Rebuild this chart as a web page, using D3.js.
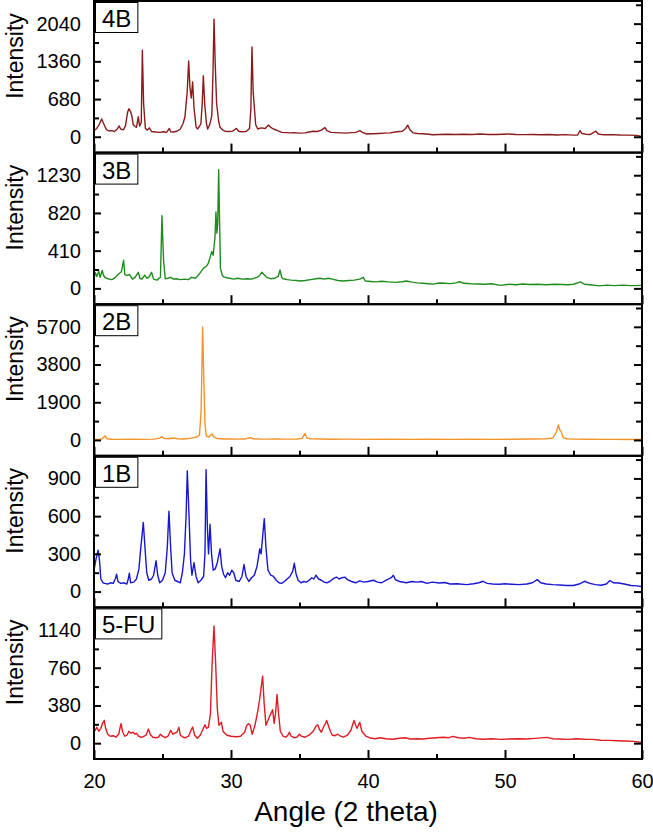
<!DOCTYPE html>
<html lang="en">
<head>
<meta charset="UTF-8">
<title>XRD patterns</title>
<script src="https://cdnjs.cloudflare.com/ajax/libs/d3/7.8.5/d3.min.js"></script>
<style>
body { margin: 0; background: #fff; }
text { font-family: Arial, "Liberation Sans", sans-serif; fill: #000; }
.tick text { font-size: 20px; }
.axis .domain { display: none; }
.axis line { stroke: #000; stroke-width: 2px; }
.frame { fill: none; stroke: #000; stroke-width: 2px; }
.tag-box { fill: #fff; stroke: #000; stroke-width: 1px; }
.tag { font-size: 24px; }
.ylab { font-size: 23px; }
.xlab { font-size: 28px; }
.trace { fill: none; stroke-width: 1.4px; stroke-linejoin: round; }
</style>
</head>
<body>
<svg id="chart" width="653" height="833"></svg>
<script>
// sample names, top to bottom
var samples = ['4B', '3B', '2B', '1B', '5-FU'];

// y tick labels per panel
var yTicks4B = [0, 680, 1360, 2040];
var yTicks3B = [0, 410, 820, 1230];
var yTicks2B = [0, 1900, 3800, 5700];
var yTicks1B = [0, 300, 600, 900];
var yTicks5FU = [0, 380, 760, 1140];

var xTicks = [20, 30, 40, 50, 60];
var xMinorTicks = [25, 35, 45, 55];

// [2theta, intensity]
var xrd4B = [[20.0,110],[20.2,150],[20.4,230],[20.56,320],[20.7,240],[20.9,130],[21.1,105],[21.3,110],[21.5,95],[21.7,140],[21.83,195],[21.95,140],[22.15,125],[22.3,200],[22.45,440],[22.55,505],[22.67,455],[22.76,380],[22.86,220],[23.0,185],[23.1,170],[23.23,360],[23.33,190],[23.45,260],[23.53,1560],[23.62,600],[23.75,150],[23.9,120],[24.04,160],[24.2,95],[24.5,85],[24.8,80],[25.1,90],[25.3,80],[25.5,150],[25.6,90],[25.8,85],[26.06,100],[26.3,140],[26.5,240],[26.64,360],[26.8,800],[26.91,1365],[27.0,900],[27.1,700],[27.2,990],[27.3,520],[27.45,180],[27.55,140],[27.7,190],[27.8,230],[27.9,600],[27.98,1100],[28.08,600],[28.2,250],[28.3,140],[28.45,220],[28.6,380],[28.68,1100],[28.76,2120],[28.85,1300],[28.95,600],[29.1,280],[29.2,170],[29.4,120],[29.56,100],[29.8,95],[30.1,100],[30.4,150],[30.55,100],[30.8,90],[31.1,95],[31.35,150],[31.45,500],[31.53,1620],[31.62,800],[31.8,220],[31.95,140],[32.2,160],[32.5,150],[32.72,210],[32.9,170],[33.1,140],[33.4,110],[33.7,80],[34.0,75],[34.3,70],[34.6,75],[35.0,65],[35.4,70],[35.7,85],[36.0,100],[36.3,95],[36.6,120],[36.86,165],[37.0,110],[37.3,80],[37.6,75],[38.0,70],[38.4,65],[38.8,75],[39.1,80],[39.4,110],[39.6,80],[39.9,50],[40.3,55],[40.8,60],[41.2,65],[41.6,70],[42.1,90],[42.5,100],[42.75,150],[42.9,210],[43.05,130],[43.3,70],[43.6,60],[44.0,55],[44.4,45],[44.75,35],[45.2,40],[45.8,45],[46.4,40],[47.0,45],[47.6,40],[48.2,50],[48.8,40],[49.4,42],[50.2,50],[50.8,40],[51.5,38],[52.0,40],[52.6,35],[53.2,40],[53.8,32],[54.4,38],[55.0,30],[55.3,32],[55.48,110],[55.6,60],[55.9,45],[56.2,40],[56.64,100],[56.8,50],[57.2,35],[57.8,38],[58.4,32],[59.0,30],[59.6,25],[60.0,5]];

var xrd3B = [[20.0,120],[20.1,170],[20.2,130],[20.35,185],[20.45,120],[20.6,195],[20.7,140],[20.8,118],[21.0,105],[21.3,95],[21.5,110],[21.75,150],[22.0,180],[22.16,305],[22.25,150],[22.4,140],[22.6,150],[22.8,100],[23.0,120],[23.23,175],[23.35,110],[23.5,100],[23.7,145],[23.85,110],[24.0,120],[24.2,175],[24.35,100],[24.6,90],[24.85,120],[24.96,790],[25.08,300],[25.2,105],[25.4,110],[25.6,120],[25.8,100],[26.0,105],[26.3,95],[26.6,100],[26.9,95],[27.1,120],[27.4,110],[27.6,140],[27.8,180],[28.0,220],[28.2,240],[28.35,275],[28.5,350],[28.6,400],[28.7,360],[28.78,480],[28.83,550],[28.9,830],[28.97,600],[29.03,700],[29.1,1290],[29.17,700],[29.23,220],[29.35,150],[29.45,125],[29.7,115],[29.9,110],[30.2,100],[30.5,110],[30.8,100],[31.2,105],[31.5,100],[31.9,120],[32.1,140],[32.24,175],[32.4,150],[32.6,120],[32.9,105],[33.2,110],[33.45,130],[33.58,200],[33.7,120],[33.8,105],[34.1,95],[34.4,90],[34.8,85],[35.04,80],[35.4,85],[35.8,95],[36.2,105],[36.5,110],[36.8,100],[37.1,110],[37.4,100],[37.8,85],[38.2,80],[38.6,85],[39.0,90],[39.4,100],[39.66,120],[39.8,80],[40.2,75],[40.6,70],[41.0,78],[41.5,70],[42.0,65],[42.5,72],[42.8,80],[43.2,68],[43.6,60],[44.0,55],[44.4,50],[44.75,46],[45.2,58],[45.6,55],[46.0,52],[46.4,60],[46.7,72],[47.0,55],[47.5,50],[48.0,48],[48.5,45],[49.0,50],[49.7,32],[50.3,45],[50.8,40],[51.3,48],[51.8,42],[52.4,45],[53.0,40],[53.6,45],[54.2,42],[54.6,40],[55.0,45],[55.5,70],[55.8,45],[56.2,40],[56.9,27],[57.4,35],[58.0,30],[58.6,35],[59.2,30],[60.0,32]];

var xrd2B = [[20.0,30],[20.4,40],[20.6,60],[20.8,200],[20.95,60],[21.3,35],[22.0,30],[22.8,35],[23.6,30],[24.4,40],[24.8,90],[24.94,170],[25.1,80],[25.4,60],[25.8,100],[26.1,60],[26.5,50],[26.9,70],[27.25,120],[27.5,150],[27.7,240],[27.82,1500],[27.93,5700],[28.02,3000],[28.1,800],[28.2,200],[28.4,150],[28.6,300],[28.75,150],[29.0,70],[29.5,50],[30.0,45],[30.5,40],[31.0,45],[31.3,100],[31.45,120],[31.6,60],[32.0,45],[32.6,40],[33.2,45],[34.0,40],[34.8,45],[35.2,80],[35.4,330],[35.55,90],[35.8,60],[36.5,45],[37.5,35],[38.5,40],[40.0,30],[41.5,35],[43.0,30],[44.5,35],[46.0,30],[47.5,35],[49.0,30],[50.5,35],[52.0,45],[53.0,60],[53.5,100],[53.75,400],[53.9,760],[54.0,500],[54.1,420],[54.25,120],[54.5,60],[55.0,40],[56.0,35],[57.0,30],[58.0,30],[59.0,25],[60.0,20]];

var xrd1B = [[20.0,170],[20.15,260],[20.3,330],[20.4,250],[20.5,100],[20.65,70],[20.8,65],[21.0,60],[21.2,70],[21.4,65],[21.55,100],[21.65,138],[21.75,80],[21.95,65],[22.2,70],[22.4,60],[22.5,100],[22.58,146],[22.67,70],[22.9,75],[23.1,100],[23.28,180],[23.4,330],[23.6,550],[23.72,350],[23.85,150],[24.0,90],[24.2,100],[24.35,130],[24.53,245],[24.65,130],[24.8,70],[25.0,90],[25.2,150],[25.35,350],[25.47,640],[25.58,380],[25.7,150],[25.9,90],[26.1,80],[26.3,70],[26.45,150],[26.6,300],[26.72,600],[26.81,960],[26.92,650],[27.05,250],[27.15,130],[27.3,230],[27.45,120],[27.6,70],[27.8,90],[28.0,120],[28.1,300],[28.18,970],[28.28,500],[28.36,300],[28.47,535],[28.58,300],[28.7,170],[28.85,180],[29.0,230],[29.2,340],[29.32,200],[29.45,140],[29.6,110],[29.75,150],[29.9,130],[30.05,170],[30.2,150],[30.35,90],[30.6,80],[30.8,120],[30.95,215],[31.1,120],[31.3,80],[31.5,110],[31.7,130],[31.9,200],[32.1,340],[32.2,300],[32.32,450],[32.43,580],[32.55,350],[32.7,170],[32.9,130],[33.1,120],[33.3,90],[33.5,70],[33.7,65],[33.9,80],[34.1,100],[34.3,120],[34.5,160],[34.62,225],[34.75,140],[34.9,90],[35.1,70],[35.3,80],[35.5,75],[35.7,90],[35.9,110],[36.05,100],[36.2,130],[36.4,100],[36.6,90],[36.8,75],[37.0,70],[37.2,80],[37.5,105],[37.7,115],[37.9,100],[38.1,110],[38.3,115],[38.5,95],[38.8,80],[39.1,70],[39.4,85],[39.7,75],[40.0,80],[40.4,90],[40.7,75],[41.0,70],[41.4,95],[41.7,110],[41.85,130],[42.0,95],[42.3,80],[42.8,70],[43.2,80],[43.6,75],[43.9,80],[44.3,65],[44.7,75],[45.2,68],[45.6,72],[46.0,60],[46.5,62],[47.2,55],[47.7,62],[48.1,70],[48.4,82],[48.7,65],[49.1,60],[49.6,58],[50.0,62],[50.5,58],[51.0,55],[51.6,60],[52.0,70],[52.36,95],[52.6,70],[53.0,60],[53.5,55],[54.0,52],[54.5,48],[55.0,48],[55.4,60],[55.8,82],[56.2,65],[56.6,55],[57.0,50],[57.4,60],[57.66,88],[57.9,70],[58.3,68],[58.7,60],[59.2,48],[59.6,45],[60.0,40]];

var xrd5FU = [[20.0,150],[20.1,130],[20.2,160],[20.35,120],[20.5,150],[20.62,200],[20.75,230],[20.85,150],[21.0,90],[21.2,70],[21.4,75],[21.6,60],[21.8,90],[21.97,196],[22.1,110],[22.25,70],[22.4,80],[22.55,120],[22.7,100],[22.85,110],[23.0,90],[23.1,100],[23.25,70],[23.4,60],[23.6,65],[23.8,80],[23.97,142],[24.1,90],[24.3,60],[24.5,55],[24.7,60],[24.85,90],[25.0,70],[25.2,55],[25.4,70],[25.6,130],[25.75,90],[25.9,100],[26.05,110],[26.2,160],[26.3,80],[26.5,60],[26.7,55],[26.9,70],[27.05,120],[27.2,162],[27.35,80],[27.55,50],[27.75,80],[27.95,140],[28.1,186],[28.2,150],[28.35,160],[28.5,300],[28.62,800],[28.76,1180],[28.88,800],[29.0,350],[29.12,180],[29.3,210],[29.42,120],[29.55,100],[29.7,80],[30.0,70],[30.4,65],[30.7,70],[31.0,110],[31.15,180],[31.27,196],[31.4,180],[31.55,90],[31.75,180],[31.95,320],[32.1,450],[32.2,560],[32.31,675],[32.42,400],[32.55,180],[32.7,230],[32.85,280],[33.04,337],[33.15,200],[33.25,300],[33.36,490],[33.47,300],[33.6,120],[33.8,70],[34.0,60],[34.15,80],[34.26,110],[34.4,70],[34.6,55],[34.8,60],[35.0,90],[35.15,70],[35.4,60],[35.7,80],[36.0,120],[36.2,170],[36.33,186],[36.45,140],[36.6,110],[36.75,160],[36.9,200],[36.98,229],[37.1,180],[37.25,120],[37.4,80],[37.6,75],[37.8,90],[38.0,70],[38.2,60],[38.5,80],[38.75,130],[38.98,229],[39.1,180],[39.2,150],[39.4,209],[39.55,120],[39.85,70],[40.1,55],[40.5,45],[40.9,55],[41.3,45],[41.8,40],[42.3,50],[42.7,55],[43.1,42],[43.6,45],[44.0,42],[44.5,50],[45.0,55],[45.5,60],[45.9,55],[46.2,68],[46.6,55],[47.0,50],[47.4,58],[47.9,45],[48.4,40],[49.0,45],[49.7,38],[50.3,42],[51.0,45],[51.6,42],[52.2,48],[53.05,58],[53.5,45],[54.0,42],[54.6,38],[55.2,45],[55.8,40],[56.4,38],[57.0,30],[57.6,28],[58.2,25],[58.8,22],[59.4,18],[60.0,6]];

var panels = [
  { name: samples[0], ticks: yTicks4B, data: xrd4B, color: '#8b1a1c' },
  { name: samples[1], ticks: yTicks3B, data: xrd3B, color: '#1e8c1e' },
  { name: samples[2], ticks: yTicks2B, data: xrd2B, color: '#f3932a' },
  { name: samples[3], ticks: yTicks1B, data: xrd1B, color: '#1717d2' },
  { name: samples[4], ticks: yTicks5FU, data: xrd5FU, color: '#e01b24' }
];

var svg = d3.select('#chart');
var left = 94, right = 642, top0 = 1, panelH = 151.6;

var x = d3.scaleLinear().domain([20, 60]).range([left, right]);

panels.forEach(function (p, i) {
  var py = top0 + i * panelH;
  var step = p.ticks[1] - p.ticks[0];
  var y = d3.scaleLinear()
    .domain([-0.42 * step, 3.6 * step])
    .range([py + panelH, py]);

  var minor = p.ticks.map(function (t) { return t + step / 2; })
    .filter(function (t) { return t < 3.6 * step; });

  var g = svg.append('g');

  g.append('clipPath').attr('id', 'clip' + i)
    .append('rect')
    .attr('x', left).attr('y', py)
    .attr('width', right - left).attr('height', panelH);

  var line = d3.line()
    .x(function (d) { return x(d[0]); })
    .y(function (d) { return y(d[1]); });

  g.append('path')
    .datum(p.data)
    .attr('class', 'trace')
    .attr('clip-path', 'url(#clip' + i + ')')
    .attr('stroke', p.color)
    .attr('d', line);

  // left axis, inward ticks
  g.append('g').attr('class', 'axis')
    .attr('transform', 'translate(' + left + ',0)')
    .call(d3.axisLeft(y).tickValues(p.ticks).tickSizeInner(-7).tickSizeOuter(0).tickPadding(13).tickFormat(d3.format('d')));
  g.append('g').attr('class', 'axis')
    .attr('transform', 'translate(' + left + ',0)')
    .call(d3.axisLeft(y).tickValues(minor).tickSizeInner(-5).tickSizeOuter(0).tickFormat(''));

  // right axis
  g.append('g').attr('class', 'axis')
    .attr('transform', 'translate(' + right + ',0)')
    .call(d3.axisRight(y).tickValues(p.ticks).tickSizeInner(-8).tickSizeOuter(0).tickFormat(''));
  g.append('g').attr('class', 'axis')
    .attr('transform', 'translate(' + right + ',0)')
    .call(d3.axisRight(y).tickValues(minor).tickSizeInner(-6).tickSizeOuter(0).tickFormat(''));

  // bottom axis
  var last = i === panels.length - 1;
  g.append('g').attr('class', 'axis')
    .attr('transform', 'translate(0,' + (py + panelH) + ')')
    .call(d3.axisBottom(x).tickValues(xTicks).tickSizeInner(-9).tickSizeOuter(0).tickPadding(15)
      .tickFormat(last ? d3.format('d') : ''));
  g.append('g').attr('class', 'axis')
    .attr('transform', 'translate(0,' + (py + panelH) + ')')
    .call(d3.axisBottom(x).tickValues(xMinorTicks).tickSizeInner(-5).tickSizeOuter(0).tickFormat(''));

  g.append('rect').attr('class', 'frame')
    .attr('x', left).attr('y', py)
    .attr('width', right - left).attr('height', panelH);

  // sample tag
  var tag = g.append('text').attr('class', 'tag')
    .attr('x', left + 8).attr('y', py + 26)
    .text(p.name);
  var bb = tag.node().getBBox();
  g.insert('rect', 'text.tag')
    .attr('class', 'tag-box')
    .attr('x', left + 1.5).attr('y', py + 1.5)
    .attr('width', bb.width + 13).attr('height', 30);

  g.append('text').attr('class', 'ylab')
    .attr('transform', 'translate(23,' + (py + 55) + ') rotate(-90)')
    .attr('text-anchor', 'middle')
    .text('Intensity');
});

svg.append('text').attr('class', 'xlab')
  .attr('x', 346).attr('y', 821)
  .attr('text-anchor', 'middle')
  .text('Angle (2 theta)');
</script>
</body>
</html>
